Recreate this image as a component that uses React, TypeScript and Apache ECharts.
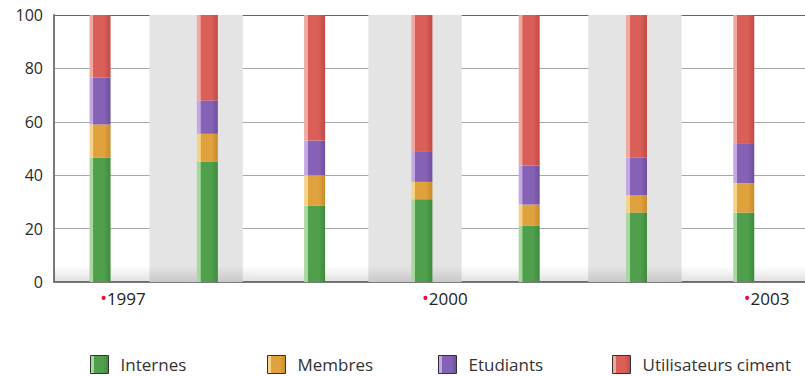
import React, { useEffect, useRef } from "react";
import * as echarts from "echarts";

const years = ["1997", "1998", "1999", "2000", "2001", "2002", "2003"];
const labeledYearIndexes = [0, 3, 6];
const seriesNames = ["Internes", "Membres", "Etudiants", "Utilisateurs ciment"];
const internes = [46.5, 45, 28.5, 31, 21, 26, 26];
const membres = [12.5, 10.5, 11.5, 6.5, 8, 6.5, 11];
const etudiants = [17.5, 12.5, 13, 11.5, 14.5, 14, 15];
const utilisateurs = [23.5, 32, 47, 51, 56.5, 53.5, 48];
const yTicks = [0, 20, 40, 60, 80, 100];

const baseColors = ["#4f9f4c", "#e0a23c", "#8562b6", "#d95f58"];
const lightColors = ["#a8d8a0", "#f3d48a", "#c4a8e2", "#f0a8a0"];
const darkColors = ["#3f8a3d", "#c98a2a", "#6e4e9e", "#c24a44"];
const legendLefts = [90, 267, 438, 612];

const fontFamily = "'Open Sans', sans-serif";

function barGradient(i: number) {
  return new echarts.graphic.LinearGradient(0, 0, 1, 0, [
    { offset: 0, color: lightColors[i] },
    { offset: 0.17, color: lightColors[i] },
    { offset: 0.19, color: baseColors[i] },
    { offset: 0.7, color: baseColors[i] },
    { offset: 1, color: darkColors[i] },
  ]);
}

export default function App() {
  const ref = useRef<HTMLDivElement>(null);
  useEffect(() => {
    if (!ref.current) return;
    const chart = echarts.init(ref.current, undefined, { renderer: "svg" });
    const allData = [internes, membres, etudiants, utilisateurs];
    const barSeries = allData.map((arr, i) => ({
      name: seriesNames[i],
      type: "bar",
      stack: "total",
      barWidth: 21,
      xAxisIndex: 1,
      yAxisIndex: 1,
      z: 3,
      data: arr,
      itemStyle: { color: barGradient(i) },
    }));
    const legends = seriesNames.map((name, i) => ({
      data: [name],
      left: legendLefts[i],
      top: 355,
      padding: 0,
      itemWidth: 18,
      itemHeight: 18,
      icon: "rect",
      textStyle: { fontSize: 17, color: "#333", fontFamily, padding: [0, 0, 0, 7] },
      itemStyle: { borderColor: "#333", borderWidth: 1 },
    }));
    const option: any = {
      animation: false,
      grid: [
        { left: 54, right: 0, top: 15, bottom: 94 },
        { left: 46.4, right: 7.6, top: 15, bottom: 94 },
      ],
      xAxis: [
        {
          type: "value",
          gridIndex: 0,
          min: -0.43,
          max: 6.57,
          axisLine: { show: true, onZero: false, lineStyle: { color: "#7a7a7a", width: 2 } },
          axisTick: { show: false },
          splitLine: { show: false },
          axisLabel: {
            customValues: labeledYearIndexes,
            align: "left",
            margin: 7,
            formatter: (v: number) => `{dot|•}{yr|${years[Math.round(v)]}}`,
            rich: {
              dot: { color: "#e8102c", fontSize: 18, fontFamily },
              yr: { color: "#222", fontSize: 17, fontFamily },
            },
          },
        },
        {
          type: "category",
          gridIndex: 1,
          data: years,
          show: false,
        },
      ],
      yAxis: [
        {
          type: "value",
          gridIndex: 0,
          min: 0,
          max: 100,
          interval: 20,
          axisLine: { show: true, onZero: false, lineStyle: { color: "#7a7a7a", width: 2 } },
          axisTick: { show: false },
          splitLine: {
            show: true,
            lineStyle: {
              color: ["#a8a8a8", "#a8a8a8", "#a8a8a8", "#a8a8a8", "#a8a8a8", "#666666"],
              width: 1,
            },
          },
          axisLabel: {
            color: "#2a2a2a",
            fontSize: 16,
            fontFamily,
            margin: 11,
            customValues: yTicks,
          },
        },
        {
          type: "value",
          gridIndex: 1,
          min: 0,
          max: 100,
          show: false,
        },
      ],
      legend: legends,
      series: [
        {
          type: "line",
          data: [],
          silent: true,
          z: 1,
          markArea: {
            silent: true,
            z: 1,
            itemStyle: { color: "#e4e4e4" },
            data: [
              [{ xAxis: 0.46 }, { xAxis: 1.33 }],
              [{ xAxis: 2.5 }, { xAxis: 3.37 }],
              [{ xAxis: 4.55 }, { xAxis: 5.42 }],
            ],
          },
        },
        {
          type: "line",
          data: [],
          silent: true,
          z: 1,
          markArea: {
            silent: true,
            z: 1,
            itemStyle: {
              color: new echarts.graphic.LinearGradient(0, 0, 0, 1, [
                { offset: 0, color: "rgba(0,0,0,0)" },
                { offset: 1, color: "rgba(0,0,0,0.12)" },
              ]),
            },
            data: [[{ yAxis: 0 }, { yAxis: 6 }]],
          },
        },
        ...barSeries,
      ],
    };
    chart.setOption(option);
    return () => chart.dispose();
  }, []);
  return (
    <div
      ref={ref}
      style={{ position: "absolute", left: 0, top: 0, width: 805, height: 376 }}
    />
  );
}
